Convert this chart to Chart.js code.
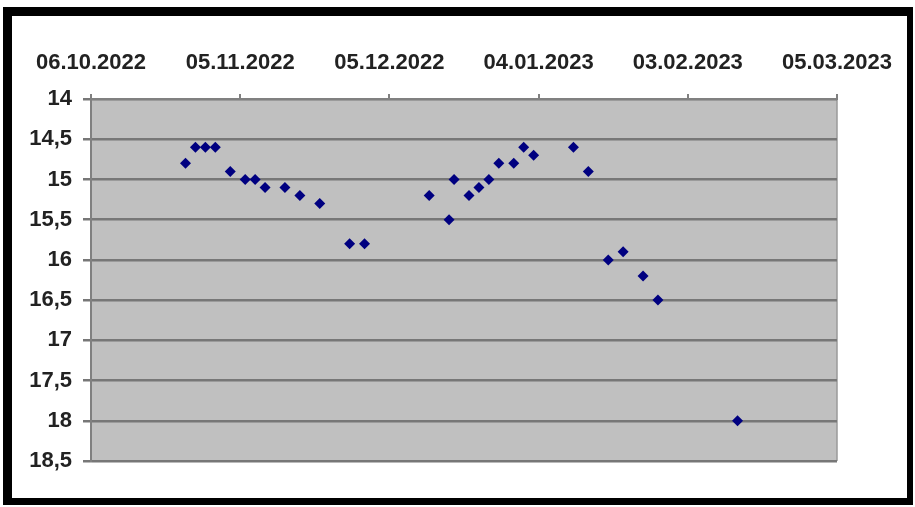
<!DOCTYPE html>
<html>
<head>
<meta charset="utf-8">
<script src="https://cdn.jsdelivr.net/npm/chart.js@4/dist/chart.umd.min.js"></script>
<style>
    html, body { margin: 0; padding: 0; background: #fff; }
    #frame {
        position: absolute; left: 3px; top: 7px; width: 910px; height: 498px;
        box-sizing: border-box; background: #fff;
        border-style: solid; border-color: #000;
        border-width: 9px 6px 7px 9px;
    }
    #wrap { position: absolute; left: 0; top: 0; width: 915px; height: 507px; }
</style>
</head>
<body>
<div id="frame"></div>
<div id="wrap"><canvas id="chart" width="915" height="507"></canvas></div>
<script>
// measurement dates and values (y axis is reversed)
const dates = [
    '25.10.2022', '27.10.2022', '29.10.2022', '31.10.2022', '03.11.2022',
    '06.11.2022', '08.11.2022', '10.11.2022', '14.11.2022', '17.11.2022',
    '21.11.2022', '27.11.2022', '30.11.2022', '13.12.2022', '17.12.2022',
    '18.12.2022', '21.12.2022', '23.12.2022', '25.12.2022', '27.12.2022',
    '30.12.2022', '01.01.2023', '03.01.2023', '11.01.2023', '14.01.2023',
    '18.01.2023', '21.01.2023', '25.01.2023', '28.01.2023', '13.02.2023'
];
const values = [
    14.8, 14.6, 14.6, 14.6, 14.9,
    15.0, 15.0, 15.1, 15.1, 15.2,
    15.3, 15.8, 15.8, 15.2, 15.5,
    15.0, 15.2, 15.1, 15.0, 14.8,
    14.8, 14.6, 14.7, 14.6, 14.9,
    16.0, 15.9, 16.2, 16.5, 18.0
];
const xTickLabels = ['06.10.2022', '05.11.2022', '05.12.2022', '04.01.2023', '03.02.2023', '05.03.2023'];
const startDate = '06.10.2022';

function dayNum(s) {
    const p = s.split('.');
    return Date.UTC(+p[2], +p[1] - 1, +p[0]) / 86400000;
}

const points = dates.map((d, i) => ({ x: dayNum(d) - dayNum(startDate), y: values[i] }));

// grey plot background like the old spreadsheet charts
const plotBg = {
    id: 'plotBg',
    beforeDraw(chart) {
        const a = chart.chartArea;
        const ctx = chart.ctx;
        ctx.save();
        ctx.fillStyle = '#c0c0c0';
        ctx.fillRect(a.left, a.top, a.right - a.left, a.bottom - a.top);
        ctx.strokeStyle = '#9a9a9a';
        ctx.lineWidth = 1.5;
        ctx.beginPath();
        ctx.moveTo(a.right, a.top);
        ctx.lineTo(a.right, a.bottom);
        ctx.stroke();
        ctx.restore();
    }
};

const labelFont = { family: '"Liberation Sans", Arial, sans-serif', size: 22, weight: 'bold' };

new Chart(document.getElementById('chart'), {
    type: 'scatter',
    data: {
        datasets: [{
            data: points,
            pointStyle: 'rectRot',
            pointRadius: 5.5,
            pointBorderWidth: 0,
            backgroundColor: '#000080',
            borderColor: '#000080'
        }]
    },
    options: {
        responsive: false,
        animation: false,
        layout: { padding: { left: 0, top: 0, right: 78, bottom: 46 } },
        plugins: { legend: { display: false }, tooltip: { enabled: false } },
        scales: {
            x: {
                type: 'linear',
                position: 'top',
                min: 0,
                max: 150,
                afterFit(scale) { scale.height = 99; },
                afterBuildTicks(scale) {
                    scale.ticks = xTickLabels.map((l, i) => ({ value: i * 30 }));
                },
                ticks: {
                    color: '#222',
                    font: labelFont,
                    padding: 18,
                    maxRotation: 0,
                    autoSkip: false,
                    callback: (v) => xTickLabels[Math.round(v / 30)]
                },
                grid: { drawOnChartArea: false, color: '#808080', lineWidth: 2, tickLength: 5 },
                border: { color: '#808080', width: 2 }
            },
            y: {
                reverse: true,
                min: 14,
                max: 18.5,
                afterFit(scale) { scale.width = 91; },
                ticks: {
                    stepSize: 0.5,
                    color: '#222',
                    font: labelFont,
                    padding: 11,
                    callback: (v) => String(v).replace('.', ',')
                },
                grid: { color: '#777', lineWidth: 2.5, tickLength: 8 },
                border: { color: '#808080', width: 2 }
            }
        }
    },
    plugins: [plotBg]
});
</script>
</body>
</html>
